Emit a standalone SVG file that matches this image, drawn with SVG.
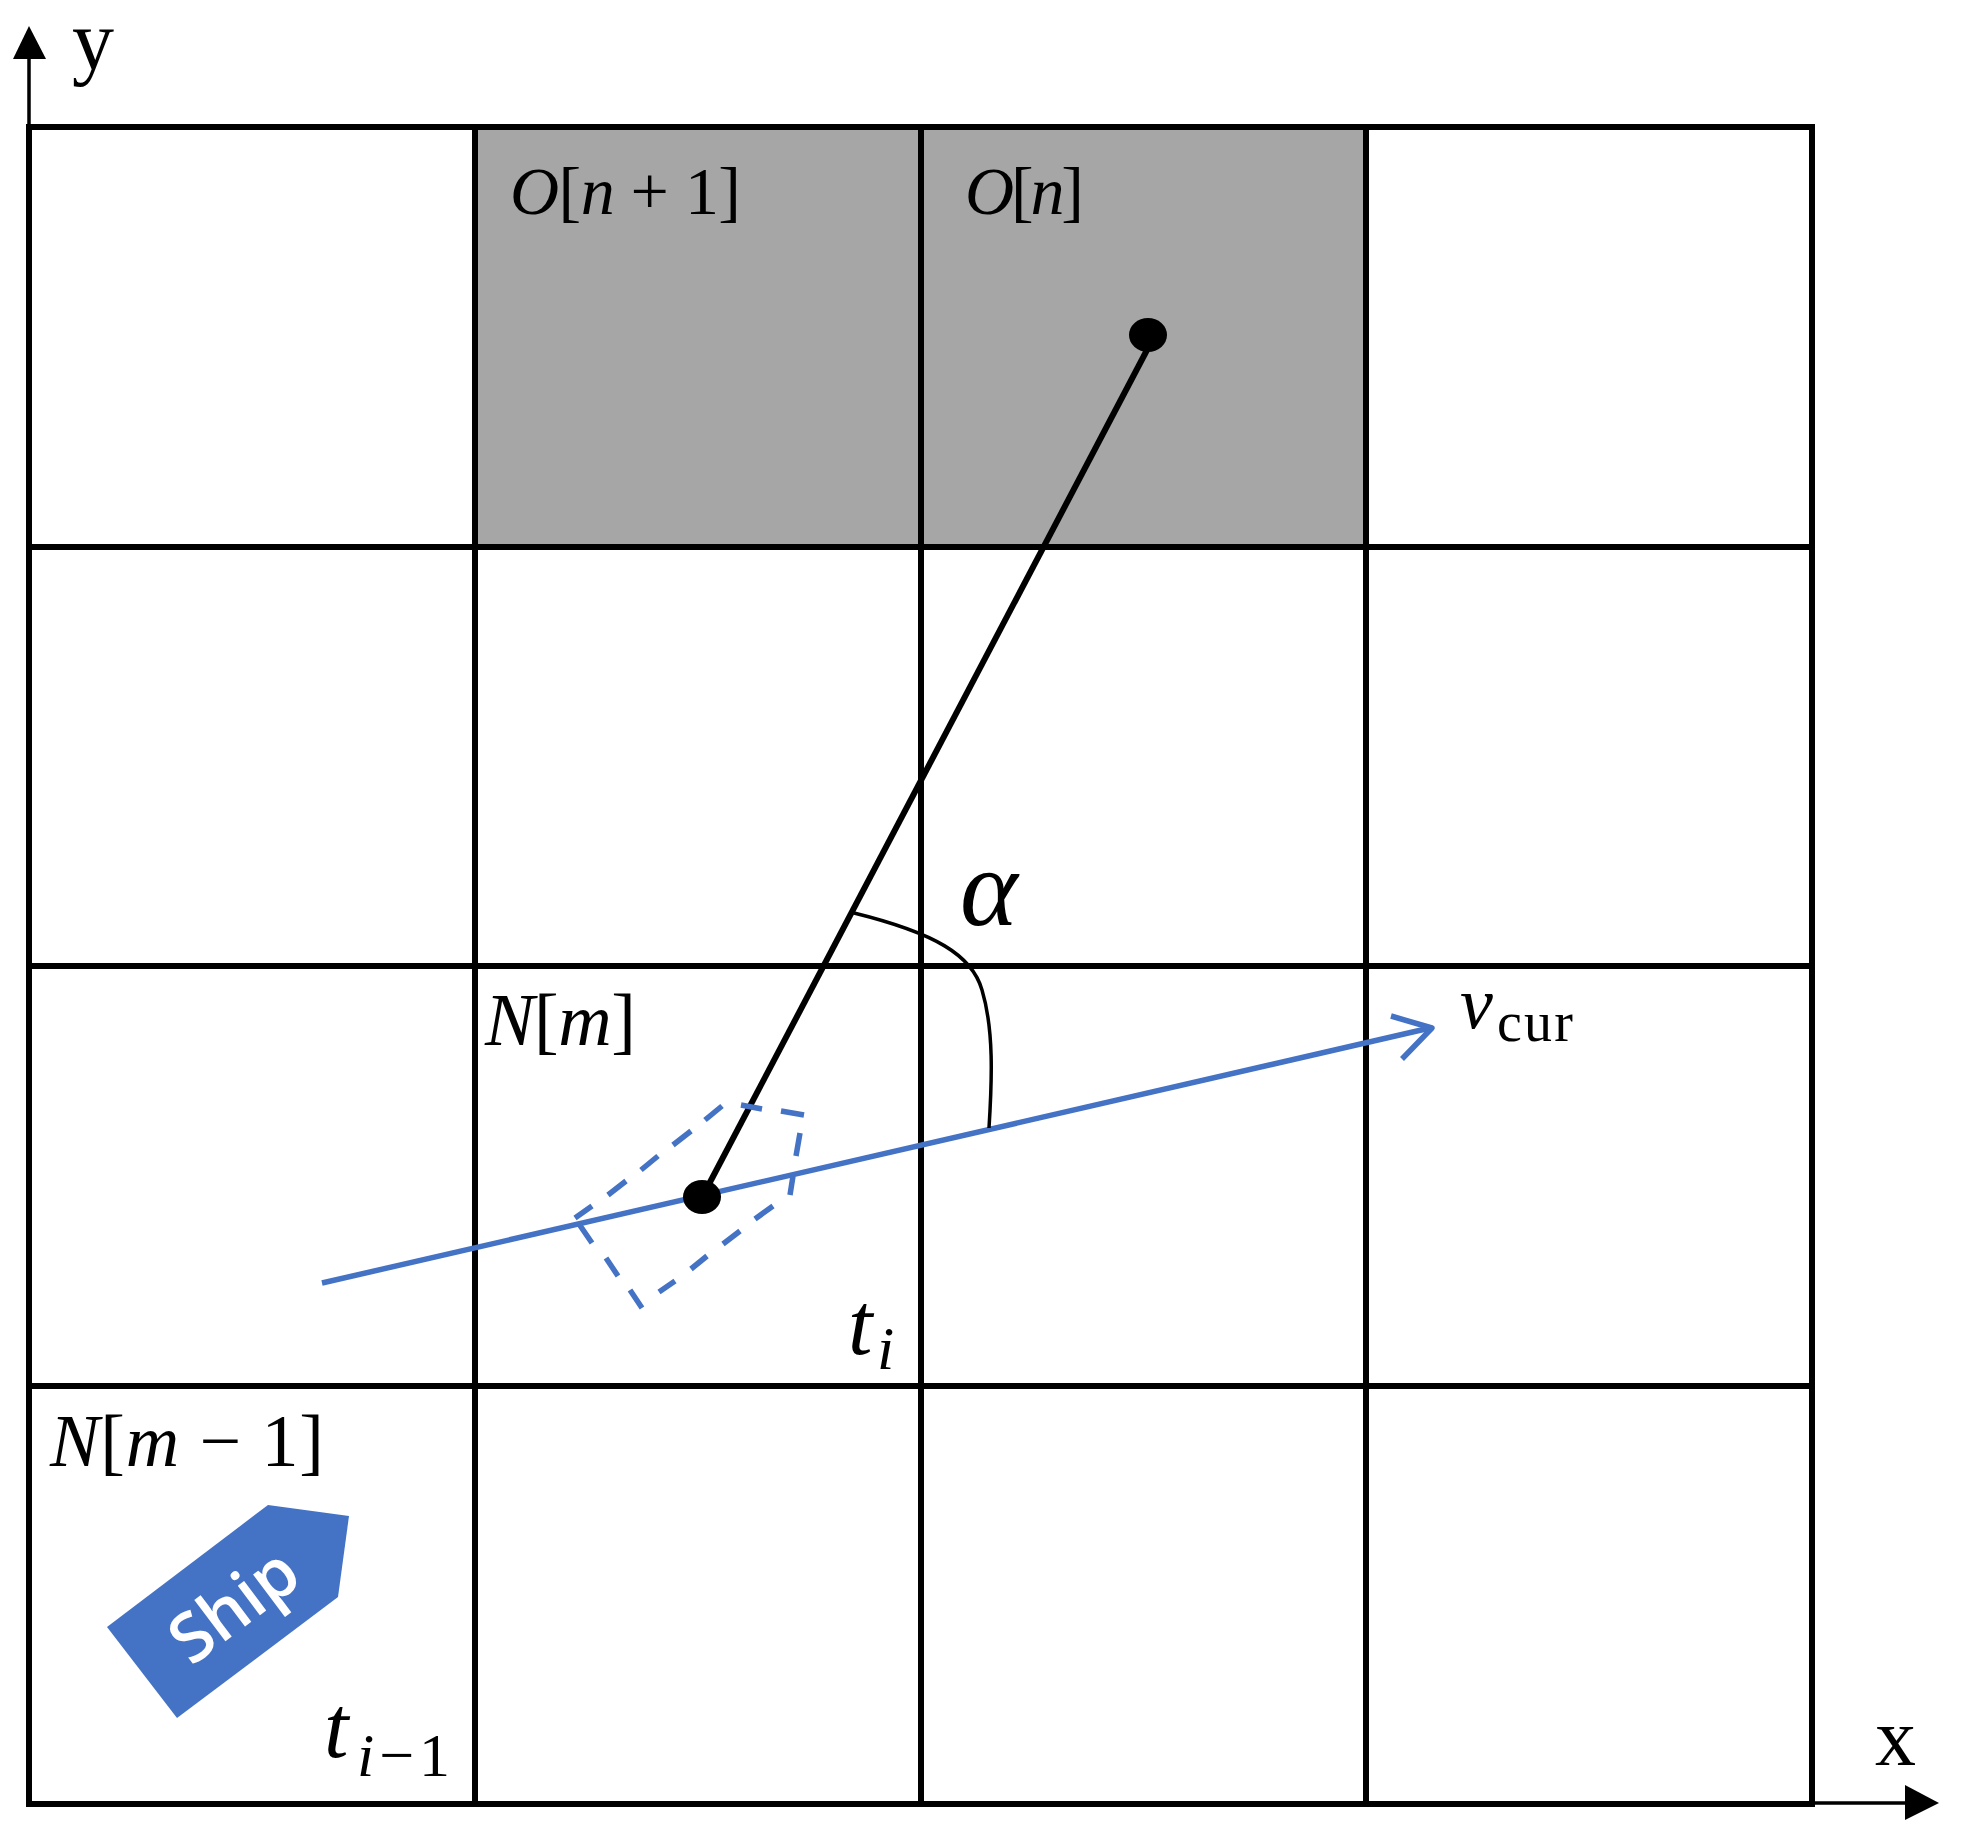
<svg xmlns="http://www.w3.org/2000/svg" width="1962" height="1837" viewBox="0 0 1962 1837">
<style>
.g{stroke:#000;stroke-width:6;fill:none;stroke-linecap:square}
.b{stroke:#4472C4;stroke-width:5.5;fill:none}
.m{font-family:"Liberation Serif","DejaVu Serif",serif;font-style:italic;fill:#000}
.r{font-family:"Liberation Serif","DejaVu Serif",serif;fill:#000}
.u{font-style:normal}
</style>
<rect width="1962" height="1837" fill="#fff"/>
<g id="cells"><rect x="475" y="127" width="891" height="420" fill="#A6A6A6"/></g>
<g id="grid">
<path class="g" d="M29 127H1812M29 547H1812M29 966H1812M29 1386H1812M29 1804H1812M29 127V1804M475 127V1804M921 127V1804M1366 127V1804M1812 127V1804"/>
</g>
<g id="axes">
<path d="M29 127V58M1812 1803H1907" stroke="#000" stroke-width="3.5" fill="none"/>
<polygon points="29,26 46,59 13,59" fill="#000"/>
<polygon points="1939,1803 1905,1785 1905,1820" fill="#000"/>
</g>
<g id="connectors">
<path d="M1147 350L708 1186" stroke="#000" stroke-width="6" fill="none"/>
<path d="M322 1283L1430 1028" class="b"/>
<path d="M1391 1016L1432 1028L1402 1059" class="b" stroke-linejoin="round"/>
<path d="M854 913C935 933 972 955 982 990C994 1030 992 1080 989 1128" stroke="#000" stroke-width="3.5" fill="none"/>
</g>
<g id="ship-ghost"><path class="b" d="M579 1224L592 1243M606 1258L618 1276M630 1290L642 1308M659 1292L675 1281M691 1269L707 1256M723 1244L740 1231M755 1219L773 1206M790 1195L793 1176M796 1156L800 1133M804 1115L781 1111M762 1109L741 1105M722 1106L705 1120M691 1131L673 1145M658 1156L641 1170M626 1181L608 1195M592 1206L575 1218"/></g>
<g id="dots">
<ellipse cx="1148" cy="335" rx="19" ry="17" fill="#000"/>
<ellipse cx="702" cy="1197" rx="19" ry="17" fill="#000"/>
</g>
<g id="ship">
<polygon points="268,1505 349,1516 338,1597 177,1718 107,1627" fill="#4472C4"/>
<text transform="translate(234,1606) rotate(-37)" x="0" y="23" text-anchor="middle" font-family="'Open Sans','Noto Sans',sans-serif" font-weight="600" font-size="68" fill="#fff">Ship</text>
</g>
<g id="labels">
<text class="r" x="72" y="69" font-size="84">y</text>
<text class="r" x="1875" y="1765" font-size="82">x</text>
<text class="m" x="510" y="214" font-size="68" textLength="231" lengthAdjust="spacing">O<tspan class="u">[</tspan>n<tspan class="u"> + 1]</tspan></text>
<text class="m" x="965" y="214" font-size="68" textLength="119" lengthAdjust="spacing">O<tspan class="u">[</tspan>n<tspan class="u">]</tspan></text>
<text class="m" x="485" y="1045" font-size="74" textLength="151" lengthAdjust="spacing">N<tspan class="u">[</tspan>m<tspan class="u">]</tspan></text>
<text class="m" x="50" y="1466" font-size="74" textLength="274" lengthAdjust="spacing">N<tspan class="u">[</tspan>m<tspan class="u"> − 1]</tspan></text>
<text class="m" x="848" y="1354" font-size="88">t</text>
<text class="m" x="877" y="1369" font-size="62">i</text>
<text class="m" x="324" y="1757" font-size="88">t</text>
<text class="m" x="357" y="1776" font-size="62" textLength="93" lengthAdjust="spacing">i<tspan class="u">−1</tspan></text>
<text class="m" x="960" y="925" font-size="110">α</text>
<text class="m" x="1460" y="1028" font-size="74">v</text>
<text class="r" x="1497" y="1041" font-size="56" textLength="76" lengthAdjust="spacing">cur</text>
</g>
</svg>
